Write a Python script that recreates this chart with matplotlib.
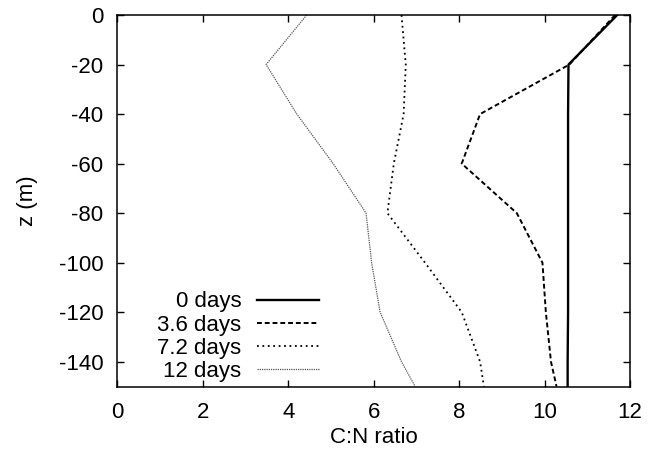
import matplotlib
matplotlib.use('Agg')
import matplotlib.pyplot as plt

plt.rcParams['font.family'] = ['Liberation Sans', 'DejaVu Sans']
plt.rcParams['axes.unicode_minus'] = False

# depth levels (m) and C:N ratio profiles at each time
z = [0, -20, -40, -60, -80, -100, -120, -140, -150]
cn_0d = [11.70, 10.56, 10.55, 10.55, 10.55, 10.55, 10.55, 10.54, 10.54]
cn_36d = [11.65, 10.58, 8.49, 8.06, 9.35, 9.95, 10.03, 10.15, 10.28]
cn_72d = [6.65, 6.75, 6.70, 6.47, 6.32, 7.20, 8.06, 8.49, 8.58]
cn_12d = [4.43, 3.48, 4.20, 5.05, 5.82, 5.95, 6.15, 6.65, 6.97]
labels = ['0 days', '3.6 days', '7.2 days', '12 days']

fs = 16

fig = plt.figure(figsize=(6.57, 4.58), dpi=100)
ax = fig.add_axes([0.1788, 0.1561, 0.9589 - 0.1788, 0.9672 - 0.1561])

ax.plot(cn_0d, z, color='black', lw=1.7, ls='-', label=labels[0])
ax.plot(cn_36d, z, color='black', lw=1.4, ls=(0, (2.5, 1.5)), label=labels[1])
ax.plot(cn_72d, z, color='black', lw=1.3, ls=(0, (1, 2)), label=labels[2])
ax.plot(cn_12d, z, color='#555555', lw=0.9, ls=(0, (1, 0.8)), label=labels[3])

ax.set_xlim(0, 12)
ax.set_ylim(-150, 0)
ax.set_xticks(range(0, 13, 2))
ax.set_yticks(range(-140, 1, 20))
ax.tick_params(direction='in', top=True, right=True, length=5, width=1,
               labelsize=fs)
ax.tick_params(axis='x', pad=11)
ax.tick_params(axis='y', pad=10)
for s in ax.spines.values():
    s.set_linewidth(1.1)

ax.set_xlabel('C:N ratio', fontsize=fs, labelpad=3)
ax.set_ylabel('z (m)', fontsize=fs, labelpad=15)

ax.legend(loc='lower right', bbox_to_anchor=(0.393, 0.012), frameon=False,
          markerfirst=False, alignment='right', fontsize=fs,
          handlelength=2.8, handletextpad=0.68, labelspacing=0.1,
          borderpad=0, borderaxespad=0)

fig.savefig('out.png', dpi=100)
